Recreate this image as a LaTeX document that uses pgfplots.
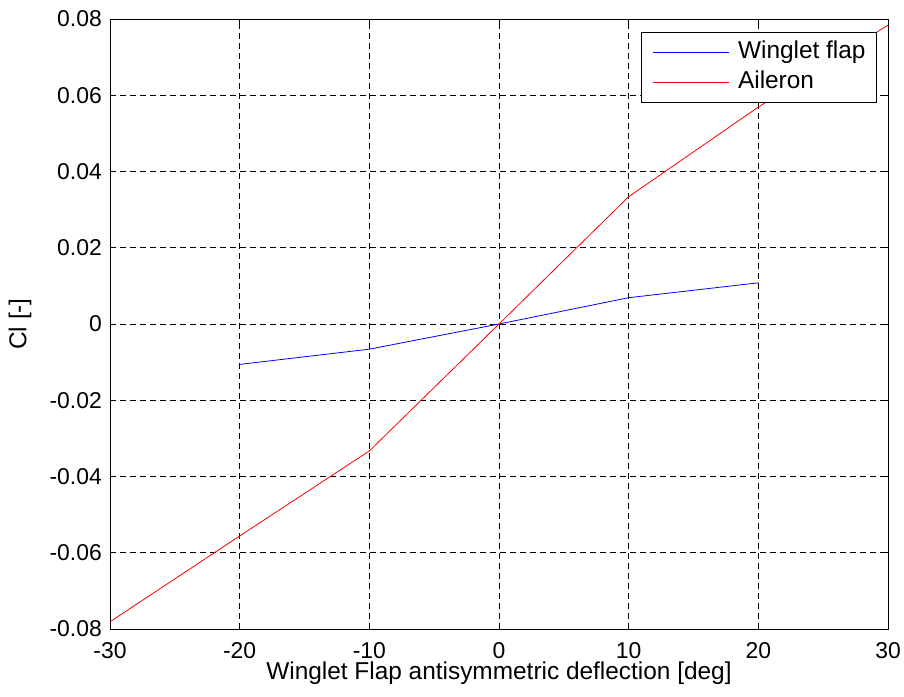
\documentclass[border=0pt]{standalone}
\usepackage{pgfplots}
\pgfplotsset{compat=1.18}
\usepackage{fontspec}
\setmainfont{Liberation Sans}
\begin{document}
\begin{tikzpicture}
\useasboundingbox (-110bp,-68bp) rectangle (794bp,629bp);
\begin{axis}[
  scale only axis,
  width=778bp, height=610bp,
  xmin=-30, xmax=30, ymin=-0.08, ymax=0.08,
  xtick={-30,-20,...,30},
  ytick={-0.08,-0.06,...,0.081},
  yticklabel style={/pgf/number format/fixed, /pgf/number format/precision=2},
  scaled y ticks=false,
  /pgf/number format/assume math mode=true,
  tick label style={font=\fontsize{23}{25}\selectfont},
  xticklabel style={anchor=base, yshift=-29bp},
  yticklabel style={anchor=east, inner xsep=0pt, xshift=-8bp},
  label style={font=\fontsize{24.5}{26}\selectfont},
  xlabel={Winglet Flap antisymmetric deflection [deg]},
  ylabel={Cl [-]},
  xlabel style={at={(axis description cs:0.5,-0.0836)}, anchor=base},
  ylabel style={at={(axis description cs:-0.0964,0.5)}, anchor=south},
  tick align=inside,
  major tick length=6bp,
  tick style={black, line width=0.6bp},
  axis line style={line width=0.9bp},
  grid=major,
  major grid style={black, dash pattern=on 6bp off 4bp, line width=0.6bp},
  legend style={at={(0.9859,0.9787)}, anchor=north east, draw=black, line width=0.9bp,
    font=\fontsize{24.5}{26}\selectfont, inner xsep=11bp, inner ysep=7bp,
    cells={anchor=west}, row sep=4bp,
    nodes={inner xsep=0pt, inner ysep=2bp, text height=17bp, text depth=5bp},
    /tikz/every odd column/.append style={column sep=9bp}},
  legend image code/.code={
    \draw[#1, line width=0.8bp] (0bp,0bp) -- (76bp,0bp);},
]
\addplot[blue, line width=0.8bp] coordinates {
  (-20,-0.0106) (-10,-0.0066) (0,0) (10,0.0069) (20,0.0108)
};
\addlegendentry{Winglet flap}
\addplot[red, line width=0.8bp] coordinates {
  (-30,-0.0781) (-20,-0.0556) (-10,-0.0333) (0,0) (10,0.0334) (20,0.0569) (30,0.0784)
};
\addlegendentry{Aileron}
\end{axis}
\end{tikzpicture}
\end{document}
